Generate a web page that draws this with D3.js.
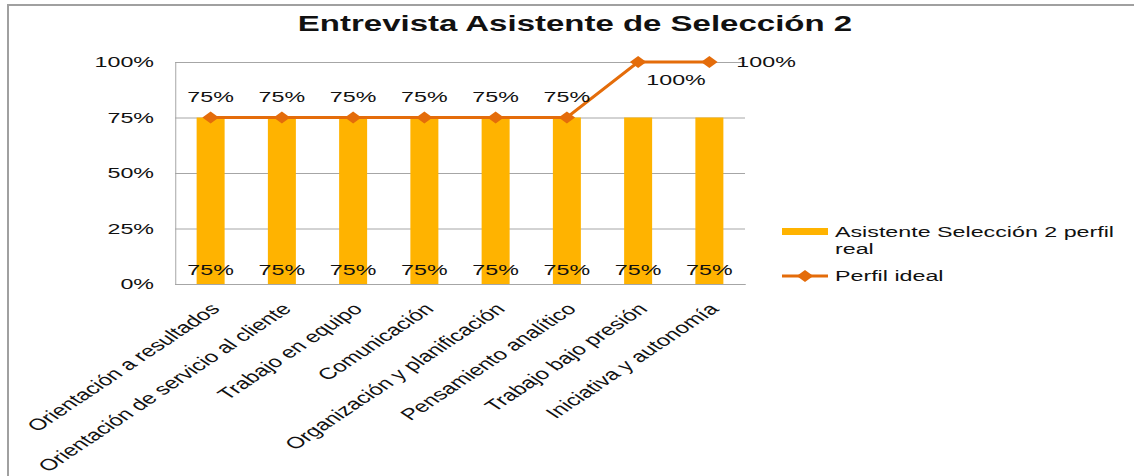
<!DOCTYPE html>
<html>
<head>
<meta charset="utf-8">
<script src="https://cdn.jsdelivr.net/npm/d3@7"></script>
<style>
  body { margin: 0; background: #fff; }
  svg { display: block; }
</style>
</head>
<body>
<div id="chart"></div>
<script>
const chartTitle = "Entrevista Asistente de Selección 2";
const categories = [
    "Orientación a resultados",
    "Orientación de servicio al cliente",
    "Trabajo en equipo",
    "Comunicación",
    "Organización y planificación",
    "Pensamiento analítico",
    "Trabajo bajo presión",
    "Iniciativa y autonomía"
];
const realValues = [0.75, 0.75, 0.75, 0.75, 0.75, 0.75, 0.75, 0.75];
const idealValues = [0.75, 0.75, 0.75, 0.75, 0.75, 0.75, 1, 1];
const yTicks = [0, 0.25, 0.5, 0.75, 1];
const seriesNames = ["Asistente Selección 2 perfil real", "Perfil ideal"];
// where each "Perfil ideal" data label sits relative to its point
const idealLabelPlace = ["top", "top", "top", "top", "top", "top", "below-right", "right"];

const W = 1134, H = 476;
// the original picture is stretched sideways, so draw narrow and let the viewBox stretch it
const stretch = 1.5;
const vw = W / stretch;

const barColor = "#FFB300";
const lineColor = "#E46C0A";
const gridColor = "#a6a6a6";
const textColor = "#111";
const fontSize = "15.5px";

const svg = d3.select("#chart")
    .append("svg")
    .attr("width", W)
    .attr("height", H)
    .attr("viewBox", `0 0 ${vw} ${H}`)
    .attr("preserveAspectRatio", "none")
    .style("font-family", "'Liberation Sans', Arial, sans-serif");

// outer chart border (only left and top are inside the picture)
svg.append("rect")
    .attr("x", 8 / stretch)
    .attr("y", 5)
    .attr("width", vw)
    .attr("height", H)
    .attr("fill", "none")
    .attr("stroke", "#a0a0a0")
    .attr("stroke-width", 2)
    .attr("vector-effect", "non-scaling-stroke");

// title
svg.append("text")
    .attr("x", 575 / stretch)
    .attr("y", 31)
    .attr("text-anchor", "middle")
    .attr("font-size", "22px")
    .attr("font-weight", "bold")
    .attr("fill", textColor)
    .text(chartTitle);

const plot = { left: 175 / stretch, right: 745 / stretch, top: 62, bottom: 284 };

const x = d3.scaleBand()
    .domain(categories)
    .range([plot.left, plot.right])
    .paddingInner(0.607)
    .paddingOuter(0.3035);

const y = d3.scaleLinear()
    .domain([0, 1])
    .range([plot.bottom, plot.top]);

const cx = d => x(d) + x.bandwidth() / 2;

// y axis with gridlines
const yAxis = svg.append("g")
    .attr("transform", `translate(${plot.left},0)`)
    .call(d3.axisLeft(y)
        .tickValues(yTicks)
        .tickSize(-(plot.right - plot.left))
        .tickSizeOuter(0)
        .tickPadding(14)
        .tickFormat(d3.format(".0%")));
yAxis.selectAll("line, path")
    .attr("stroke", gridColor)
    .attr("vector-effect", "non-scaling-stroke");
yAxis.selectAll("text")
    .attr("font-size", fontSize)
    .attr("font-family", "'Liberation Sans', Arial, sans-serif")
    .attr("fill", textColor);

// x axis
const xAxis = svg.append("g")
    .attr("transform", `translate(0,${plot.bottom})`)
    .call(d3.axisBottom(x).tickSize(0).tickSizeOuter(0));
xAxis.select("path")
    .attr("stroke", gridColor)
    .attr("vector-effect", "non-scaling-stroke");
xAxis.selectAll("text")
    .attr("font-size", "16px")
    .attr("font-family", "'Liberation Sans', Arial, sans-serif")
    .attr("fill", textColor)
    .attr("text-anchor", "end")
    .attr("x", 0)
    .attr("y", 0)
    .attr("dy", "0.35em")
    .attr("transform", "translate(3,22) rotate(-45)");

// bars
svg.append("g")
    .selectAll("rect")
    .data(categories)
    .enter()
    .append("rect")
    .attr("x", d => x(d))
    .attr("width", x.bandwidth())
    .attr("y", (d, i) => y(realValues[i]))
    .attr("height", (d, i) => y(0) - y(realValues[i]))
    .attr("fill", barColor);

// bar labels at the bottom of each bar
svg.append("g")
    .selectAll("text")
    .data(categories)
    .enter()
    .append("text")
    .attr("x", d => cx(d))
    .attr("y", y(0) - 9)
    .attr("text-anchor", "middle")
    .attr("font-size", fontSize)
    .attr("fill", textColor)
    .text((d, i) => d3.format(".0%")(realValues[i]));

// ideal profile line
const line = d3.line()
    .x((d, i) => cx(categories[i]))
    .y(d => y(d));

svg.append("path")
    .datum(idealValues)
    .attr("d", line)
    .attr("fill", "none")
    .attr("stroke", lineColor)
    .attr("stroke-width", 3)
    .attr("vector-effect", "non-scaling-stroke");

const diamond = "M0,-6L5.5,0L0,6L-5.5,0Z";

svg.append("g")
    .selectAll("path")
    .data(idealValues)
    .enter()
    .append("path")
    .attr("d", diamond)
    .attr("transform", (d, i) => `translate(${cx(categories[i])},${y(d)})`)
    .attr("fill", lineColor);

// ideal profile labels
const placeOffsets = {
    "top": { dx: 0, dy: -15.5, anchor: "middle" },
    "below-right": { dx: 25.3, dy: 23, anchor: "middle" },
    "right": { dx: 18, dy: 5.5, anchor: "start" }
};

svg.append("g")
    .selectAll("text")
    .data(idealValues)
    .enter()
    .append("text")
    .attr("x", (d, i) => cx(categories[i]) + placeOffsets[idealLabelPlace[i]].dx)
    .attr("y", (d, i) => y(d) + placeOffsets[idealLabelPlace[i]].dy)
    .attr("text-anchor", (d, i) => placeOffsets[idealLabelPlace[i]].anchor)
    .attr("font-size", fontSize)
    .attr("fill", textColor)
    .text(d => d3.format(".0%")(d));

// legend
const legend = svg.append("g");
const lgX = 782 / stretch, lgW = 46 / stretch, lgTextX = 835 / stretch;

legend.append("rect")
    .attr("x", lgX)
    .attr("y", 228)
    .attr("width", lgW)
    .attr("height", 7)
    .attr("fill", barColor);

const t1 = legend.append("text")
    .attr("x", lgTextX)
    .attr("y", 237)
    .attr("font-size", fontSize)
    .attr("fill", textColor);
t1.append("tspan").attr("x", lgTextX).text(seriesNames[0].replace(/ real$/, ""));
t1.append("tspan").attr("x", lgTextX).attr("dy", 17).text("real");

legend.append("line")
    .attr("x1", lgX)
    .attr("x2", lgX + lgW)
    .attr("y1", 276)
    .attr("y2", 276)
    .attr("stroke", lineColor)
    .attr("stroke-width", 3)
    .attr("vector-effect", "non-scaling-stroke");

legend.append("path")
    .attr("d", diamond)
    .attr("transform", `translate(${lgX + lgW / 2},276)`)
    .attr("fill", lineColor);

legend.append("text")
    .attr("x", lgTextX)
    .attr("y", 281)
    .attr("font-size", fontSize)
    .attr("fill", textColor)
    .text(seriesNames[1]);
</script>
</body>
</html>
